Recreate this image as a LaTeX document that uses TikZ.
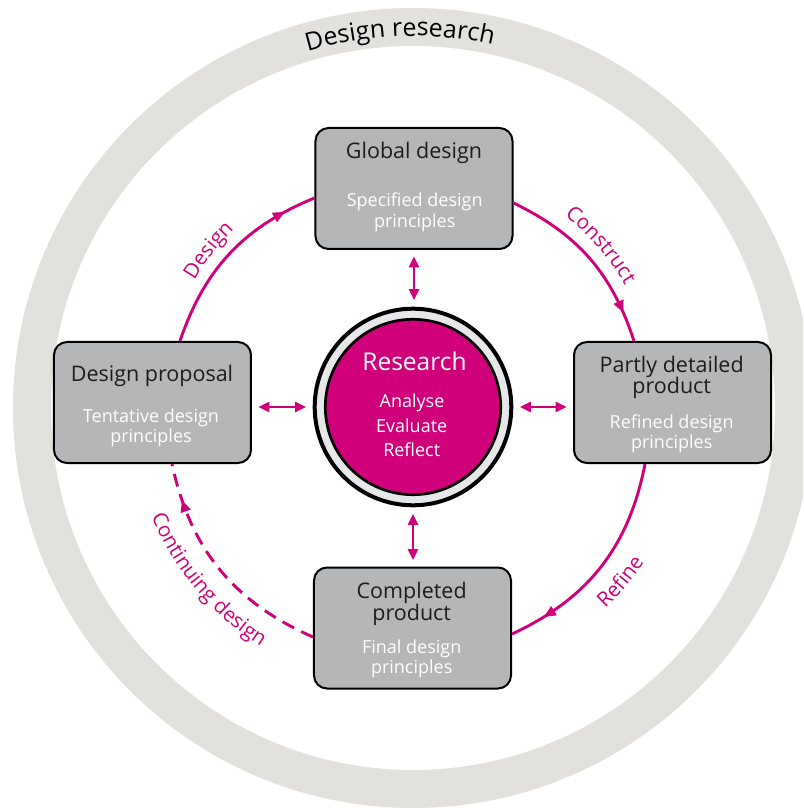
\documentclass[tikz,border=0pt]{standalone}
\usepackage{fontspec}
\setmainfont{Open Sans}
\usetikzlibrary{arrows.meta,decorations.markings,decorations.text,calc}
\definecolor{mag}{RGB}{207,0,122}
\definecolor{boxgray}{RGB}{181,182,184}
\definecolor{ringgray}{RGB}{226,225,222}
\definecolor{ringin}{RGB}{230,231,232}
\definecolor{ink}{RGB}{29,29,27}
\begin{document}
\begin{tikzpicture}[x=1pt,y=1pt,
  stage/.style={draw=black, line width=2pt, fill=boxgray, rounded corners=13pt,
    minimum width=197pt, minimum height=121pt, inner sep=0pt},
  ttl/.style={anchor=base, text=ink, font=\fontsize{21.5}{24}\selectfont, inner sep=0pt},
  sub/.style={anchor=base, text=white, font=\fontsize{18}{21}\selectfont, inner sep=0pt},
  flow/.style={color=mag, line width=2.9pt, bend left=#1, postaction={decorate},
    decoration={markings, mark=at position 0.84 with {\arrow{Triangle[length=12pt,width=10pt]}}}},
  link/.style={color=mag, line width=2.5pt,
    {Triangle[length=11pt,width=10pt]}-{Triangle[length=11pt,width=10pt]},
    shorten <=6.5pt, shorten >=6.5pt},
  lbl/.style={decorate, decoration={text along path, text align=center,
    text={|\color{mag}\fontsize{20.5}{24}\selectfont|#1}}},
]
\useasboundingbox (-413,-400) rectangle (390,408);
\fill[white] (-413,-400) rectangle (390,408);
\begin{scope}
  \clip (-413,-400) rectangle (390,408);
  \draw[ringgray, line width=38pt] (0,0) circle[radius=381pt];
\end{scope}
\path[decorate, decoration={text along path, text align=center,
  text={|\fontsize{25}{30}\selectfont|Design research}}]
  (152:372pt) arc[start angle=152, end angle=32, radius=372pt];

% stage boxes
\node[stage] (gd) at (1,219.5) {};
\node[stage] (dp) at (-260.5,5.5) {};
\node[stage] (pd) at (259.5,5.5) {};
\node[stage] (cp) at (-0.5,-220) {};

% centre circle
\node[circle, draw=black, line width=4pt, fill=ringin, minimum size=196.6pt, inner sep=0pt] (rc) at (0,1) {};
\node[circle, draw=black, line width=2.7pt, fill=mag, minimum size=175.4pt, inner sep=0pt] (rci) at (0,1) {};

% box texts
\node[ttl] (gdT) at (1,249) {Global design};
\node[sub] (gdS1) at (1.7,201) {Specified design};
\node[sub] (gdS2) at (1.7,180) {principles};

\node[ttl] (dpT) at (-261,27) {Design proposal};
\node[sub] (dpS1) at (-262,-14.7) {Tentative design};
\node[sub] (dpS2) at (-262,-34.7) {principles};

\node[ttl] (pdT1) at (258.7,35.3) {Partly detailed};
\node[ttl] (pdT2) at (258.7,14.7) {product};
\node[sub] (pdS1) at (258.7,-20.3) {Refined design};
\node[sub] (pdS2) at (258.7,-40.3) {principles};

\node[ttl] (cpT1) at (-1.3,-190.3) {Completed};
\node[ttl] (cpT2) at (-1.3,-212) {product};
\node[sub] (cpS1) at (-1.3,-245.3) {Final design};
\node[sub] (cpS2) at (-1.3,-265.3) {principles};

% centre texts
\node[anchor=base, text=white, font=\fontsize{24.5}{28}\selectfont, inner sep=0pt] (rcT) at (1.5,37) {Research};
\node[sub] (rc1) at (-1,0.3) {Analyse};
\node[sub] (rc2) at (-1.3,-24.3) {Evaluate};
\node[sub] (rc3) at (-1.3,-48.7) {Reflect};

% cycle arcs
\draw[flow=24.4] ($(dp.north)+(27.5,0)$) to ($(gd.west)+(0,-9.5)$);
\draw[flow=23] ($(gd.east)+(0,-14.5)$) to ($(pd.north)+(-38.5,0)$);
\draw[flow=27] ($(pd.south)+(-27.5,0)$) to ($(cp.east)+(0,-6)$);
\draw[flow=27, dash pattern=on 13pt off 8pt] ($(cp.west)+(0,-9)$) to ($(dp.south)+(19.5,0)$);

% arc labels
\path[lbl=Design] (172.4:253pt) arc[start angle=172.4, end angle=112.4, radius=253pt];
\path[lbl=Construct] (70.9:245pt) arc[start angle=70.9, end angle=10.9, radius=245pt];
\path[lbl=Refine] (-70:278pt) arc[start angle=-70, end angle=-10, radius=278pt];
\path[lbl=Continuing design] (175:283pt) arc[start angle=175, end angle=265, radius=283pt];

% links to research
\draw[link] (gd.south) -- (gd.south |- rc.north);
\draw[link] (dp.east |- rc.west) -- (rc.west);
\draw[link] (rc.east) -- (rc.east -| pd.west);
\draw[link] (rc.south) -- (rc.south |- cp.north);
\end{tikzpicture}
\end{document}
